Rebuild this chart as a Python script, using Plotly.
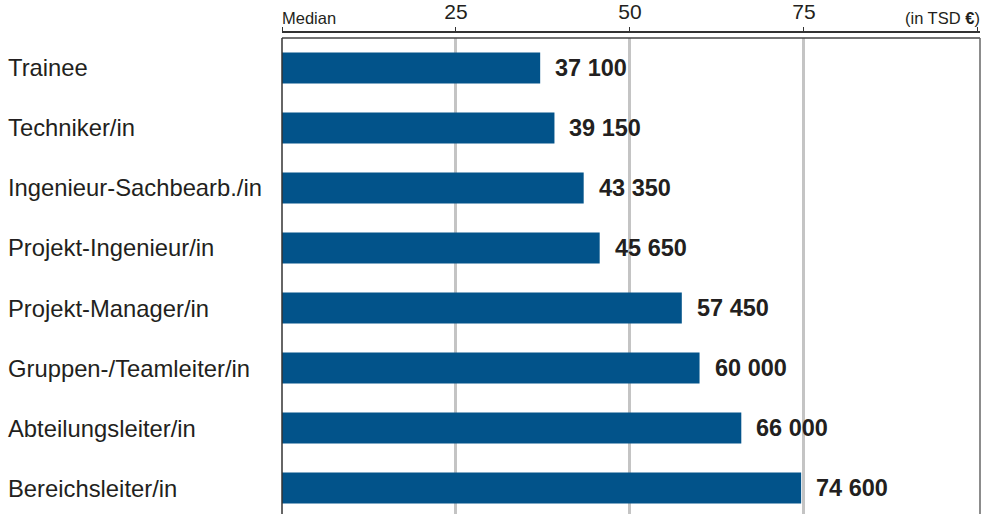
import plotly.graph_objects as go

categories = ["Trainee", "Techniker/in", "Ingenieur-Sachbearb./in", "Projekt-Ingenieur/in",
              "Projekt-Manager/in", "Gruppen-/Teamleiter/in", "Abteilungsleiter/in", "Bereichsleiter/in"]
median_eur = [37100, 39150, 43350, 45650, 57450, 60000, 66000, 74600]
tick_vals = [25, 50, 75]
tick_text = ["25", "50", "75"]
edge_ticks = [0, 100]

x_tsd = [v / 1000 for v in median_eur]
labels = [f"{v:,}".replace(",", " ") for v in median_eur]

BAR = "#02538A"
TXT = "#231F20"
FONT = "Liberation Sans, Arial, sans-serif"

fig = go.Figure()
fig.add_trace(go.Bar(
    x=x_tsd, y=categories, orientation="h",
    marker=dict(color=BAR, line=dict(width=0)),
    hoverinfo="skip", showlegend=False,
))

Y_TOP = (514 - 38) / (514 - 32)

annotations = []
for c, xv, lab in zip(categories, x_tsd, labels):
    annotations.append(dict(x=xv, y=c, xref="x", yref="y", text=f"<b>{lab}</b>",
                            showarrow=False, xanchor="left", yanchor="middle", xshift=13,
                            font=dict(family=FONT, size=23.5, color=TXT)))
    annotations.append(dict(x=(6 - 282) / 698, y=c, xref="paper", yref="y", text=c,
                            showarrow=False, xanchor="left", yanchor="middle",
                            font=dict(family=FONT, size=23.8, color=TXT)))
annotations.append(dict(x=0, y=1, xref="paper", yref="paper", text="Median",
                        showarrow=False, xanchor="left", yanchor="bottom", yshift=3, xshift=-2,
                        font=dict(family=FONT, size=16.5, color=TXT)))
annotations.append(dict(x=1, y=1, xref="paper", yref="paper", text="(in TSD <b>€</b>)",
                        showarrow=False, xanchor="right", yanchor="bottom", yshift=3, xshift=2,
                        font=dict(family=FONT, size=16.5, color=TXT)))

shapes = [
    dict(type="line", xref="paper", yref="paper", x0=0, x1=1, y0=Y_TOP, y1=Y_TOP,
         line=dict(color="#444444", width=1.5)),
    dict(type="line", xref="paper", yref="paper", x0=0, x1=0, y0=-0.05, y1=Y_TOP,
         line=dict(color="#333333", width=1.5)),
    dict(type="line", xref="paper", yref="paper", x0=1, x1=1, y0=-0.05, y1=Y_TOP,
         line=dict(color="#666666", width=1.5)),
]

fig.update_layout(
    width=990, height=514,
    margin=dict(l=282, r=10, t=32, b=0),
    paper_bgcolor="white", plot_bgcolor="white",
    bargap=0.483,
    xaxis=dict(range=[0, 100.3], side="top", anchor="free", position=1,
               tickvals=tick_vals, ticktext=tick_text,
               ticks="outside", ticklen=4, tickwidth=1, tickcolor="#333333",
               minor=dict(tickmode="array", tickvals=edge_ticks, ticks="outside",
                          ticklen=4, tickwidth=1, tickcolor="#333333", showgrid=False),
               showline=True, linecolor="#333333", linewidth=1.5,
               showgrid=True, gridcolor="#C4C4C4", gridwidth=2.5,
               zeroline=False,
               tickfont=dict(family=FONT, size=21, color=TXT)),
    yaxis=dict(domain=[0, Y_TOP], categoryorder="array", categoryarray=categories,
               range=[-0.5 + 476 / 60, -0.5], showticklabels=False, showgrid=False,
               zeroline=False, showline=False, ticks=""),
    annotations=annotations, shapes=shapes,
)

fig.write_html("out.html", config={"displayModeBar": False},
               post_script="document.body.style.margin='0';document.body.style.overflow='hidden';")
